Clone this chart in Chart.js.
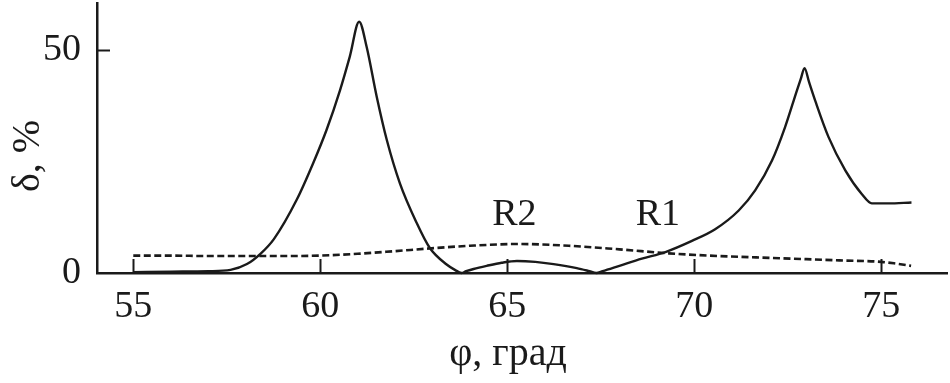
<!DOCTYPE html>
<html>
<head>
<meta charset="utf-8">
<script src="https://cdn.jsdelivr.net/npm/chart.js@4/dist/chart.umd.min.js"></script>
<style>
html,body{margin:0;padding:0;background:#fff;}
#c{display:block;}
</style>
</head>
<body>
<canvas id="c" width="950" height="383"></canvas>
<script>
// Solid curve: angle φ (deg) and δ (%)
const phiSolid = [55, 56, 57, 57.6, 58.04, 58.4, 58.76, 59.37, 59.81, 60.17, 60.53, 60.79, 61.04, 61.24, 61.51, 61.78, 62.13, 62.58, 62.93, 63.38, 63.6, 63.78, 63.9, 64.1, 64.45, 64.85, 65.26, 65.75, 66.24, 66.86, 67.2, 67.38, 67.55, 68.0, 68.6, 69.23, 69.94, 70.56, 71.19, 71.63, 72.08, 72.43, 72.75, 72.85, 72.95, 73.07, 73.24, 73.59, 74.04, 74.48, 74.75, 75.19, 75.81];
const deltaSolid = [0.2, 0.3, 0.4, 0.7, 2.0, 4.3, 7.6, 16.4, 24.6, 32.1, 41.0, 48.5, 56.3, 50.7, 39.5, 29.8, 20.1, 11.2, 5.6, 1.9, 0.7, 0, 0.4, 0.9, 1.6, 2.3, 2.7, 2.5, 2.0, 1.1, 0.4, 0, 0.4, 1.6, 3.2, 4.7, 7.2, 9.8, 14.0, 18.5, 25.2, 32.7, 41.0, 43.5, 45.9, 42.8, 38.5, 30.5, 23.0, 17.7, 15.6, 15.6, 15.8];
// Dashed curve
const phiDash = [55, 56, 57, 58, 59, 60, 61, 62, 62.92, 64, 65.32, 66.65, 68, 69.32, 70.65, 72, 73, 74, 75, 75.4, 75.8];
const deltaDash = [3.9, 3.9, 3.8, 3.8, 3.8, 3.9, 4.3, 4.9, 5.5, 6.1, 6.5, 6.1, 5.3, 4.4, 3.8, 3.4, 3.1, 2.8, 2.5, 2.1, 1.6];
// Axis ticks
const xTicks = [55, 60, 65, 70, 75];
const yTicks = [0, 50];
// Curve labels
const curveLabels = ["R2", "R1"];
const labelPhi = [65.19, 69.03];
const labelDelta = [13, 13];
const xTitle = "φ, град";
const yTitle = "δ, %";

const FONT = "'Liberation Serif', 'Times New Roman', serif";
const INK = '#1a1a1a';

const toPts = (xs, ys) => xs.map((x, i) => ({x: x, y: ys[i]}));

const decor = {
  id: 'decor',
  afterDraw(chart) {
    const ctx = chart.ctx;
    const xs = chart.scales.x, ys = chart.scales.y;
    const area = chart.chartArea;
    ctx.save();
    ctx.strokeStyle = INK;
    ctx.lineWidth = 2;
    xTicks.forEach(v => {
      const px = Math.round(xs.getPixelForValue(v)) + 0.5;
      ctx.beginPath(); ctx.moveTo(px, area.bottom); ctx.lineTo(px, area.bottom - 14); ctx.stroke();
    });
    yTicks.forEach(v => {
      if (v === 0) return;
      const py = Math.round(ys.getPixelForValue(v)) + 0.5;
      ctx.beginPath(); ctx.moveTo(area.left, py); ctx.lineTo(area.left + 13, py); ctx.stroke();
    });
    ctx.fillStyle = INK;
    ctx.font = "38px " + FONT;
    ctx.textAlign = 'center';
    ctx.textBaseline = 'middle';
    curveLabels.forEach((t, i) => {
      ctx.fillText(t, xs.getPixelForValue(labelPhi[i]), ys.getPixelForValue(labelDelta[i]));
    });
    ctx.font = "40px " + FONT;
    ctx.fillText(xTitle, 508, 354);
    ctx.translate(28, 156);
    ctx.rotate(-Math.PI / 2);
    ctx.fillText(yTitle, 0, 0);
    ctx.restore();
  }
};

new Chart(document.getElementById('c'), {
  type: 'line',
  data: {
    datasets: [
      {
        data: toPts(phiSolid, deltaSolid),
        borderColor: INK, borderWidth: 2.4, pointRadius: 0, cubicInterpolationMode: 'monotone', fill: false, clip: 6
      },
      {
        data: toPts(phiDash, deltaDash),
        borderColor: INK, borderWidth: 2.6, borderDash: [7, 3.5], pointRadius: 0, cubicInterpolationMode: 'monotone', fill: false, clip: 6
      }
    ]
  },
  options: {
    responsive: false,
    animation: false,
    devicePixelRatio: 1,
    layout: {padding: {top: 3, right: 3, left: 0, bottom: 0}},
    plugins: {legend: {display: false}, tooltip: {enabled: false}},
    scales: {
      x: {
        type: 'linear', min: 54.03, max: 76.76,
        grid: {display: false, drawTicks: false},
        border: {display: true, color: INK, width: 2.5},
        afterBuildTicks(s) { s.ticks = xTicks.map(v => ({value: v})); },
        afterFit(s) { s.height = 110; s.paddingLeft = 0; s.paddingRight = 0; },
        ticks: {color: INK, padding: 11, maxRotation: 0, autoSkip: false, font: {family: FONT, size: 38}}
      },
      y: {
        type: 'linear', min: 0, max: 60.5,
        grid: {display: false, drawTicks: false},
        border: {display: true, color: INK, width: 2.5},
        afterBuildTicks(s) { s.ticks = yTicks.map(v => ({value: v})); },
        afterFit(s) { s.width = 97; s.paddingTop = 0; s.paddingBottom = 0; },
        ticks: {color: INK, padding: 16, autoSkip: false, font: {family: FONT, size: 38}}
      }
    }
  },
  plugins: [decor]
});
</script>
</body>
</html>
